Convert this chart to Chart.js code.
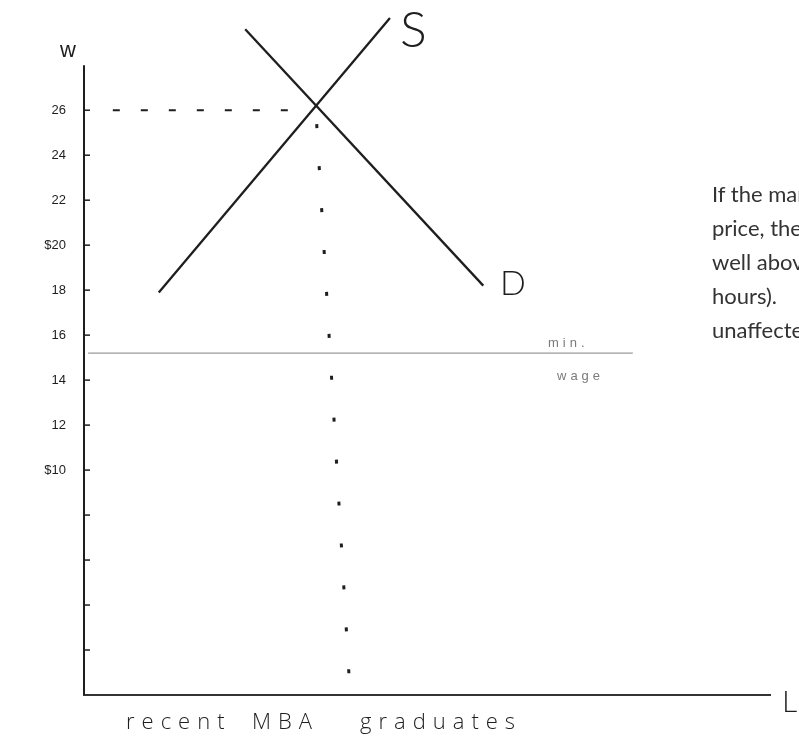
<!DOCTYPE html>
<html>
<head>
<meta charset="utf-8">
<title>Labour market for recent MBA graduates</title>
<script src="https://cdn.jsdelivr.net/npm/chart.js@4.4.1/dist/chart.umd.min.js"></script>
<style>
  html, body { margin: 0; padding: 0; background: #fff; }
  #wrap { position: relative; width: 799px; height: 740px; overflow: hidden; }
  #chart { position: absolute; left: 0; top: 0; }
  #note {
    position: absolute; left: 712px; top: 177px; width: 87px;
    overflow: hidden; white-space: nowrap;
    font: 22px/34px Lato, "Open Sans", sans-serif; color: #333;
  }
</style>
</head>
<body>
<div id="wrap">
  <canvas id="chart" width="799" height="740"></canvas>
  <div id="note">If the market<br>price, the<br>well above<br>hours).<br>unaffected</div>
</div>
<script>
// Supply and demand for recent MBA graduates (wage vs. quantity of labour)
const supplyQty  = [10.9, 44.6];
const supplyWage = [17.9, 30.1];
const demandQty  = [23.5, 58.2];
const demandWage = [29.6, 18.2];

// Equilibrium wage guide and the drop line to the quantity axis
const eqWage       = 26;
const wageGuideQty = [4.2, 32.6];
const dropQty      = [33.8, 38.8];
const dropWage     = [26, 0];

// Minimum wage
const minWage    = 15.2;
const minWageQty = [0.6, 80];

// Wage axis
const wageTicks      = [10, 12, 14, 16, 18, 20, 22, 24, 26];
const wageTickLabels = ['$10', '12', '14', '16', '18', '$20', '22', '24', '26'];
const minorTicks     = [2, 4, 6, 8];
const wageAxisTop    = 28;

const pts = (xs, ys) => xs.map((v, i) => ({ x: v, y: ys[i] }));
const ink = '#1e1e1e';

const sketch = {
  id: 'sketch',
  afterDraw(chart) {
    const { ctx, scales: { x, y } } = chart;
    const x0 = x.getPixelForValue(0);
    ctx.save();
    // wage axis line
    ctx.strokeStyle = ink;
    ctx.lineWidth = 2;
    ctx.beginPath();
    ctx.moveTo(x0, y.getPixelForValue(0));
    ctx.lineTo(x0, y.getPixelForValue(wageAxisTop));
    ctx.stroke();
    // small tick marks on the inner side of the axis
    ctx.lineWidth = 1.5;
    [...minorTicks, ...wageTicks].forEach(v => {
      const py = y.getPixelForValue(v);
      ctx.beginPath();
      ctx.moveTo(x0, py);
      ctx.lineTo(x0 + 6, py);
      ctx.stroke();
    });
    // wage tick labels
    ctx.fillStyle = ink;
    ctx.font = '13px "Liberation Sans", sans-serif';
    ctx.textAlign = 'right';
    ctx.textBaseline = 'middle';
    wageTicks.forEach((v, i) => {
      ctx.fillText(wageTickLabels[i], x0 - 18, y.getPixelForValue(v));
    });

    ctx.textBaseline = 'alphabetic';
    // axis names
    ctx.font = '22px "Liberation Sans", sans-serif';
    ctx.textAlign = 'center';
    ctx.fillText('w', 68, 57);
    ctx.textAlign = 'left';
    ctx.font = '300 30px Lato, sans-serif';
    ctx.fillText('L', 782, 712);

    // curve labels
    ctx.font = '300 50px Lato, sans-serif';
    ctx.fillText('S', 400, 47);
    ctx.font = '300 34px Lato, sans-serif';
    ctx.fillText('D', 500, 295);

    // minimum wage label
    ctx.fillStyle = '#7a7a7a';
    ctx.font = '13px "Liberation Sans", sans-serif';
    ctx.letterSpacing = '4px';
    ctx.fillText('min.', 548, 347);
    ctx.fillText('wage', 557, 380);

    // quantity axis caption
    ctx.fillStyle = ink;
    ctx.font = '300 22px "Open Sans", Lato, sans-serif';
    ctx.letterSpacing = '7px';
    ctx.fillText('recent', 126, 729);
    ctx.fillText('MBA', 252, 729);
    ctx.fillText('graduates', 360, 729);
    ctx.restore();
  }
};

new Chart(document.getElementById('chart'), {
  type: 'line',
  data: {
    datasets: [
      { label: 'S', data: pts(supplyQty, supplyWage), borderColor: ink, borderWidth: 2.3 },
      { label: 'D', data: pts(demandQty, demandWage), borderColor: ink, borderWidth: 2.3 },
      { label: 'equilibrium wage', data: pts(wageGuideQty, [eqWage, eqWage]),
        borderColor: ink, borderWidth: 2, borderDash: [7, 21] },
      { label: 'equilibrium quantity', data: pts(dropQty, dropWage),
        borderColor: ink, borderWidth: 3, borderDash: [4, 38], borderDashOffset: -14 },
      { label: 'min. wage', data: pts(minWageQty, [minWage, minWage]),
        borderColor: '#9a9a9a', borderWidth: 1.2 }
    ]
  },
  options: {
    responsive: false,
    animation: false,
    layout: { padding: { top: 9, right: 29, left: 0, bottom: 0 } },
    elements: { point: { radius: 0 }, line: { tension: 0 } },
    plugins: { legend: { display: false }, tooltip: { enabled: false } },
    scales: {
      x: {
        type: 'linear', min: 0, max: 100,
        grid: { display: false },
        border: { display: true, color: '#333', width: 2 },
        ticks: { display: false },
        afterFit: s => { s.height = 45; }
      },
      y: {
        type: 'linear', min: 0, max: 30.5,
        grid: { display: false, drawTicks: false },
        border: { display: false },
        ticks: { display: false },
        afterFit: s => { s.width = 84; }
      }
    }
  },
  plugins: [sketch]
});
</script>
</body>
</html>
